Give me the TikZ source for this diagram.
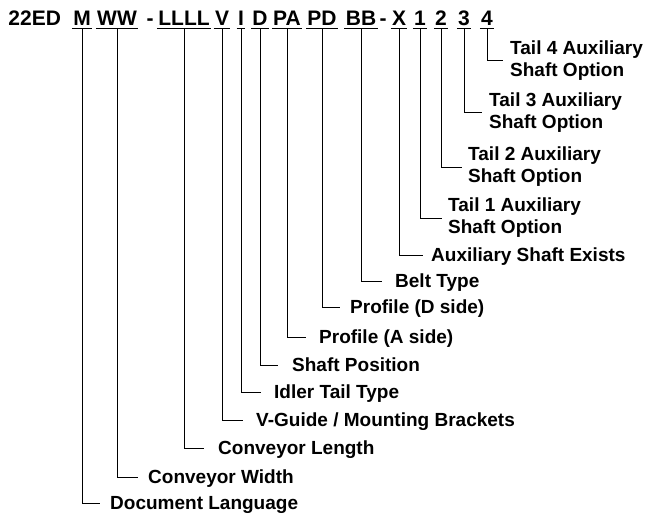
\documentclass[tikz,border=0pt]{standalone}
\usepackage{fontspec}
\setmainfont{Liberation Sans}
\begin{document}
\begin{tikzpicture}[x=1pt,y=-1pt,
  code/.style={anchor=base,inner xsep=1.2pt,inner ysep=0pt,font=\fontsize{21}{25}\selectfont\bfseries},
  lab/.style={anchor=west,inner sep=0pt,font=\fontsize{19}{22}\selectfont\bfseries},
  labone/.style={lab,text height=13.6pt,text depth=0pt},
  labtwo/.style={lab,align=left},
  conn/.style={line width=1pt},
  uline/.style={line width=1pt}]
\useasboundingbox (0,0) rectangle (647,516);
% code row
\node[code,anchor=base west] (pre) at (7,26) {22ED};
\node[code] (cM) at (82,26) {M};
\node[code] (cW) at (117,26) {WW};
\node[code] (h1) at (150,26) {-};
\node[code] (cL) at (184,26) {LLLL};
\node[code] (cV) at (222,26) {V};
\node[code] (cI) at (241,26) {I};
\node[code] (cD) at (260,26) {D};
\node[code] (cPA) at (287,26) {PA};
\node[code] (cPD) at (322,26) {PD};
\node[code] (cBB) at (361,26) {BB};
\node[code] (h2) at (383,26) {-};
\node[code] (cX) at (399,26) {X};
\node[code] (c1) at (420,26) {1};
\node[code] (c2) at (441,26) {2};
\node[code] (c3) at (464,26) {3};
\node[code] (c4) at (487,26) {4};
\foreach \n in {cM,cW,cL,cV,cI,cD,cPA,cPD,cBB,cX,c1,c2,c3,c4}
  \draw[uline] ([yshift=-2.5pt]\n.base west) -- ([yshift=-2.5pt]\n.base east);
% labels
\node[labtwo] (t4) at (510,61) {Tail 4 Auxiliary\\Shaft Option};
\node[labtwo] (t3) at (489,113) {Tail 3 Auxiliary\\Shaft Option};
\node[labtwo] (t2) at (468,167) {Tail 2 Auxiliary\\Shaft Option};
\node[labtwo] (t1) at (448,218) {Tail 1 Auxiliary\\Shaft Option};
\node[labone] (ase) at (431,255) {Auxiliary Shaft Exists};
\node[labone] (belt) at (395,281) {Belt Type};
\node[labone] (pd) at (350,307) {Profile (D side)};
\node[labone] (pa) at (319,337) {Profile (A side)};
\node[labone] (sp) at (292,365) {Shaft Position};
\node[labone] (itt) at (274,392) {Idler Tail Type};
\node[labone] (vg) at (256,420) {V-Guide / Mounting Brackets};
\node[labone] (cl) at (218,448) {Conveyor Length};
\node[labone] (cw) at (148,477) {Conveyor Width};
\node[labone] (dl) at (110,503) {Document Language};
% connectors
\draw[conn] ([yshift=-2.5pt]c4.base) |- ([xshift=-7pt]t4.west);
\draw[conn] ([yshift=-2.5pt]c3.base) |- ([xshift=-7pt]t3.west);
\draw[conn] ([yshift=-2.5pt]c2.base) |- ([xshift=-6pt]t2.west);
\draw[conn] ([yshift=-2.5pt]c1.base) |- ([xshift=-6pt]t1.west);
\draw[conn] ([yshift=-2.5pt]cX.base) |- ([xshift=-8pt]ase.west);
\draw[conn] ([yshift=-2.5pt]cBB.base) |- ([xshift=-13pt]belt.west);
\draw[conn] ([yshift=-2.5pt]cPD.base) |- ([xshift=-10pt]pd.west);
\draw[conn] ([yshift=-2.5pt]cPA.base) |- ([xshift=-13pt]pa.west);
\draw[conn] ([yshift=-2.5pt]cD.base) |- ([xshift=-14pt]sp.west);
\draw[conn] ([yshift=-2.5pt]cI.base) |- ([xshift=-13pt]itt.west);
\draw[conn] ([yshift=-2.5pt]cV.base) |- ([xshift=-13pt]vg.west);
\draw[conn] ([yshift=-2.5pt]cL.base) |- ([xshift=-14pt]cl.west);
\draw[conn] ([yshift=-2.5pt]cW.base) |- ([xshift=-10pt]cw.west);
\draw[conn] ([yshift=-2.5pt]cM.base) |- ([xshift=-10pt]dl.west);
\end{tikzpicture}
\end{document}
